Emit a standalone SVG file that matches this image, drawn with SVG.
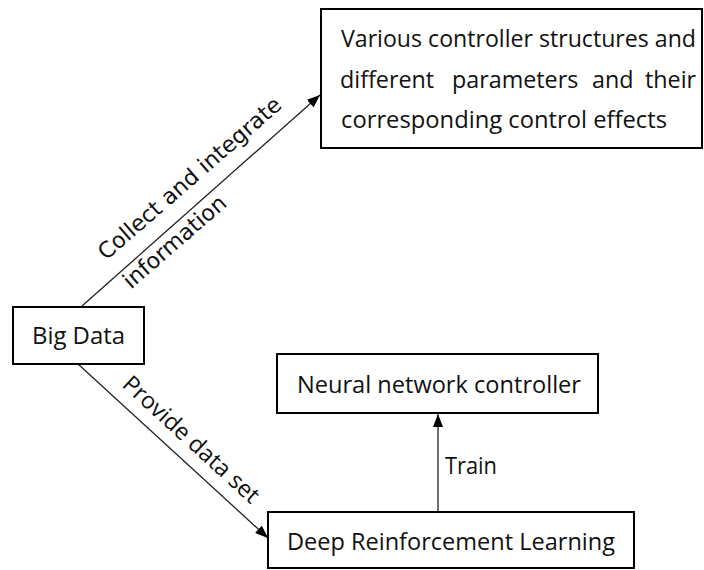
<svg xmlns="http://www.w3.org/2000/svg" width="704" height="570" viewBox="0 0 704 570">
<defs>
<marker id="arr" markerWidth="13" markerHeight="10" refX="13" refY="5" orient="auto" markerUnits="userSpaceOnUse">
<path d="M0,0 L13,5 L0,10 Z" fill="#000"/>
</marker>
<style>
.box{fill:#fff;stroke:#000;stroke-width:2}
.t{font-family:"Open Sans","Noto Sans","Liberation Sans",sans-serif;font-size:23.3px;fill:#111}
.lbl{font-family:"DejaVu Sans","Liberation Sans",sans-serif;font-size:22.3px;fill:#111}
.c{stroke:#222;stroke-width:1.3;fill:none}
</style>
</defs>
<rect width="704" height="570" fill="#fff"/>
<g id="connectors">
<line class="c" x1="82" y1="306" x2="320" y2="95" marker-end="url(#arr)"/>
<line class="c" x1="78" y1="364" x2="268" y2="538" marker-end="url(#arr)"/>
<line class="c" x1="438" y1="512" x2="438" y2="414" marker-end="url(#arr)"/>
<g transform="translate(106,261) rotate(-41)">
<text class="lbl" x="0" y="0">Collect and integrate</text>
<text class="lbl" x="0" y="38">information</text>
</g>
<text class="t" transform="translate(121,386) rotate(42.4)" x="0" y="0" textLength="176" lengthAdjust="spacingAndGlyphs">Provide data set</text>
<text class="t" x="445" y="474" textLength="52" lengthAdjust="spacingAndGlyphs">Train</text>
</g>
<g id="n-top">
<rect class="box" x="321" y="9" width="381" height="139"/>
<text class="t" x="341" y="47" textLength="355" lengthAdjust="spacingAndGlyphs">Various controller structures and</text>
<text class="t" y="88"><tspan x="340">different</tspan><tspan x="452">parameters</tspan><tspan x="592">and</tspan><tspan x="645">their</tspan></text>
<text class="t" x="341" y="128" textLength="326" lengthAdjust="spacingAndGlyphs">corresponding control effects</text>
</g>
<g id="n-bigdata">
<rect class="box" x="13" y="307" width="131" height="57"/>
<text class="t" x="32" y="344" textLength="93" lengthAdjust="spacingAndGlyphs">Big Data</text>
</g>
<g id="n-neural">
<rect class="box" x="277" y="354" width="321" height="59"/>
<text class="t" x="297" y="393" textLength="284" lengthAdjust="spacingAndGlyphs">Neural network controller</text>
</g>
<g id="n-drl">
<rect class="box" x="268" y="512" width="366" height="56"/>
<text class="t" x="287" y="550" textLength="328" lengthAdjust="spacingAndGlyphs">Deep Reinforcement Learning</text>
</g>
</svg>
